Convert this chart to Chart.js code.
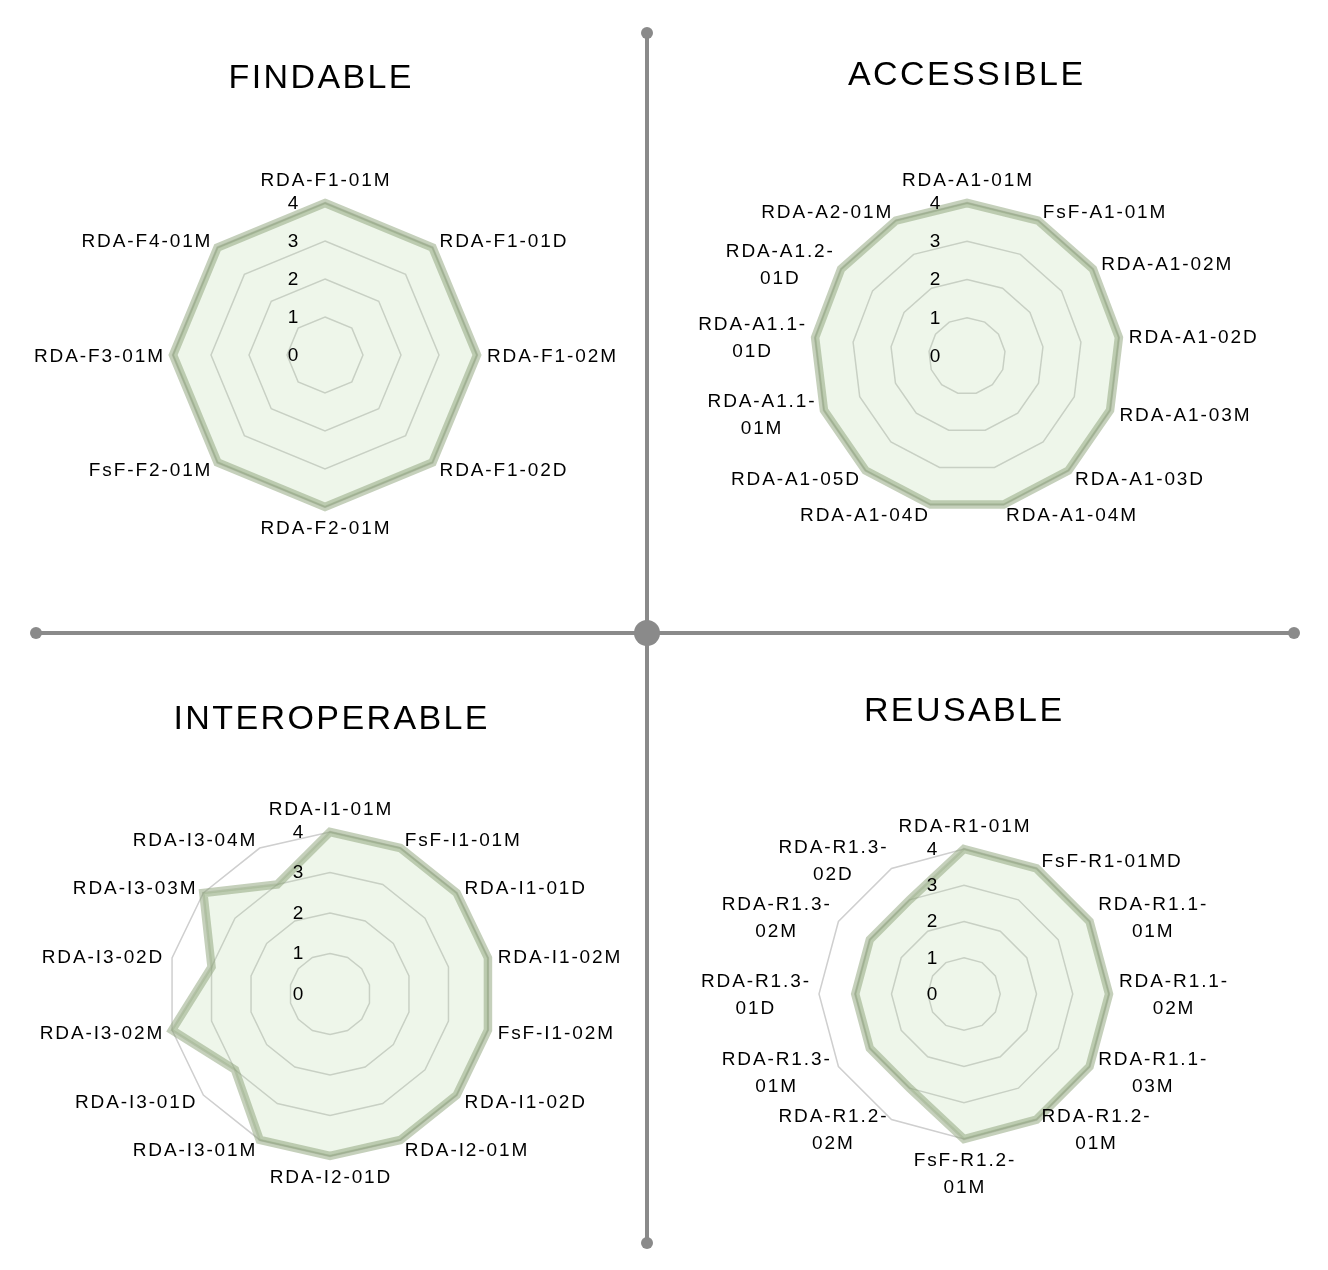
<!DOCTYPE html>
<html>
<head>
<meta charset="utf-8">
<script src="https://cdn.jsdelivr.net/npm/chart.js@4.4.1/dist/chart.umd.min.js"></script>
<style>
html,body{margin:0;padding:0;background:#ffffff;}
#page{position:relative;width:1328px;height:1270px;overflow:hidden;background:#fff;}
#page svg{position:absolute;left:0;top:0;}
#page canvas{position:absolute;}
</style>
</head>
<body>
<div id="page">
<svg width="1328" height="1270" viewBox="0 0 1328 1270">
  <line x1="647" y1="33" x2="647" y2="1243" stroke="#8a8a8a" stroke-width="4"/>
  <line x1="36" y1="633" x2="1294" y2="633" stroke="#8a8a8a" stroke-width="4"/>
  <circle cx="647" cy="33" r="6" fill="#8a8a8a"/>
  <circle cx="647" cy="1243" r="6" fill="#8a8a8a"/>
  <circle cx="36" cy="633" r="6" fill="#8a8a8a"/>
  <circle cx="1294" cy="633" r="6" fill="#8a8a8a"/>
  <circle cx="647" cy="633" r="13" fill="#8a8a8a"/>
</svg>
<canvas id="cF" width="664" height="635" style="left:0;top:0"></canvas>
<canvas id="cA" width="664" height="635" style="left:664px;top:0"></canvas>
<canvas id="cI" width="664" height="635" style="left:0;top:635px"></canvas>
<canvas id="cR" width="664" height="635" style="left:664px;top:635px"></canvas>
</div>
<script>
// ---------- data ----------
const findableLabels = ["RDA-F1-01M","RDA-F1-01D","RDA-F1-02M","RDA-F1-02D","RDA-F2-01M","FsF-F2-01M","RDA-F3-01M","RDA-F4-01M"];
const findableValues = [4,4,4,4,4,4,4,4];

const accessibleLabels = ["RDA-A1-01M","FsF-A1-01M","RDA-A1-02M","RDA-A1-02D","RDA-A1-03M","RDA-A1-03D","RDA-A1-04M","RDA-A1-04D","RDA-A1-05D",["RDA-A1.1-","01M"],["RDA-A1.1-","01D"],["RDA-A1.2-","01D"],"RDA-A2-01M"];
const accessibleValues = [4,4,4,4,4,4,4,4,4,4,4,4,4];

const interoperableLabels = ["RDA-I1-01M","FsF-I1-01M","RDA-I1-01D","RDA-I1-02M","FsF-I1-02M","RDA-I1-02D","RDA-I2-01M","RDA-I2-01D","RDA-I3-01M","RDA-I3-01D","RDA-I3-02M","RDA-I3-02D","RDA-I3-03M","RDA-I3-04M"];
const interoperableValues = [4,4,4,4,4,4,4,4,4,3,4,3,4,3];

const reusableLabels = ["RDA-R1-01M","FsF-R1-01MD",["RDA-R1.1-","01M"],["RDA-R1.1-","02M"],["RDA-R1.1-","03M"],["RDA-R1.2-","01M"],["FsF-R1.2-","01M"],["RDA-R1.2-","02M"],["RDA-R1.3-","01M"],["RDA-R1.3-","01D"],["RDA-R1.3-","02M"],["RDA-R1.3-","02D"]];
const reusableValues = [4,4,4,4,4,4,4,3,3,3,3,3];

const tickMin = 0, tickMax = 4, tickStep = 1;

// ---------- layout (canvas coordinates) ----------
const panels = [
  {id:'cF', title:'FINDABLE',      labels:findableLabels,      values:findableValues,      cx:325, cy:355, r:152, tx:320,   ty:76},
  {id:'cA', title:'ACCESSIBLE',    labels:accessibleLabels,    values:accessibleValues,    cx:303, cy:356, r:153, tx:301.5, ty:73},
  {id:'cI', title:'INTEROPERABLE', labels:interoperableLabels, values:interoperableValues, cx:330, cy:359, r:162, tx:330.5, ty:82},
  {id:'cR', title:'REUSABLE',      labels:reusableLabels,      values:reusableValues,      cx:300, cy:359, r:145, tx:299,   ty:74}
];

const FONT = '"Liberation Sans", Arial, Helvetica, sans-serif';
const LH = 27;
const LS = 1.9;

const labelPlugin = {
  id: 'fairLabels',
  afterDatasetsDraw(chart, args, o) {
    const s = chart.scales.r;
    const ctx = chart.ctx;
    ctx.save();
    ctx.fillStyle = '#000000';
    ctx.textBaseline = 'alphabetic';
    ctx.textAlign = 'center';
    // tick labels
    ctx.font = '19px ' + FONT;
    try { ctx.letterSpacing = '0px'; } catch(e) {}
    s.ticks.forEach(t => {
      const y = s.yCenter - s.getDistanceFromCenterForValue(t.value);
      ctx.fillText(t.label, s.xCenter - 32, y - 1 + 6.8);
    });
    // point labels
    try { ctx.letterSpacing = LS + 'px'; } catch(e) {}
    const labels = chart.data.labels;
    const n = labels.length;
    labels.forEach((lab, i) => {
      const lines = Array.isArray(lab) ? lab : [lab];
      const p = s.getPointPosition(i, s.drawingArea + 10);
      const deg = Math.round(i * 360 / n * 1000) / 1000;
      const W = Math.max(...lines.map(l => ctx.measureText(l).width)) - LS;
      let bx;
      if (deg === 0 || deg === 180) bx = p.x;
      else if (deg < 180) bx = p.x + W / 2;
      else bx = p.x - W / 2;
      const H = lines.length * LH;
      const top = deg === 0 ? p.y - H : (deg === 180 ? p.y - 3 : p.y - H / 2);
      lines.forEach((l, k) => {
        ctx.fillText(l, bx + LS / 2, top + LH * (k + 0.5) + 6.8);
      });
    });
    // title
    ctx.font = '34px ' + FONT;
    try { ctx.letterSpacing = '2.4px'; } catch(e) {}
    ctx.fillText(o.title, o.tx + 1.2, o.ty + 12.2);
    ctx.restore();
  }
};

panels.forEach(pn => {
  new Chart(document.getElementById(pn.id), {
    type: 'radar',
    data: {
      labels: pn.labels,
      datasets: [
        {
          data: pn.values,
          fill: true,
          backgroundColor: 'rgba(176,216,160,0.22)',
          borderColor: 'rgba(140,162,120,0.50)',
          borderWidth: 8.5,
          pointRadius: 0,
          pointHoverRadius: 0,
          tension: 0
        },
        {
          data: pn.values,
          fill: false,
          borderColor: 'rgba(120,140,100,0.28)',
          borderWidth: 2.5,
          pointRadius: 0,
          pointHoverRadius: 0,
          tension: 0
        }
      ]
    },
    options: {
      responsive: false,
      animation: false,
      layout: { padding: 0 },
      plugins: {
        legend: { display: false },
        tooltip: { enabled: false },
        fairLabels: { title: pn.title, tx: pn.tx, ty: pn.ty }
      },
      scales: {
        r: {
          min: tickMin,
          max: tickMax,
          ticks: { stepSize: tickStep, display: false },
          angleLines: { display: false },
          grid: { color: '#cfcfcf', lineWidth: 1.5 },
          pointLabels: { display: false },
          afterFit: (scale) => {
            scale.xCenter = pn.cx;
            scale.yCenter = pn.cy;
            scale.drawingArea = pn.r;
          }
        }
      }
    },
    plugins: [labelPlugin]
  });
});
</script>
</body>
</html>
